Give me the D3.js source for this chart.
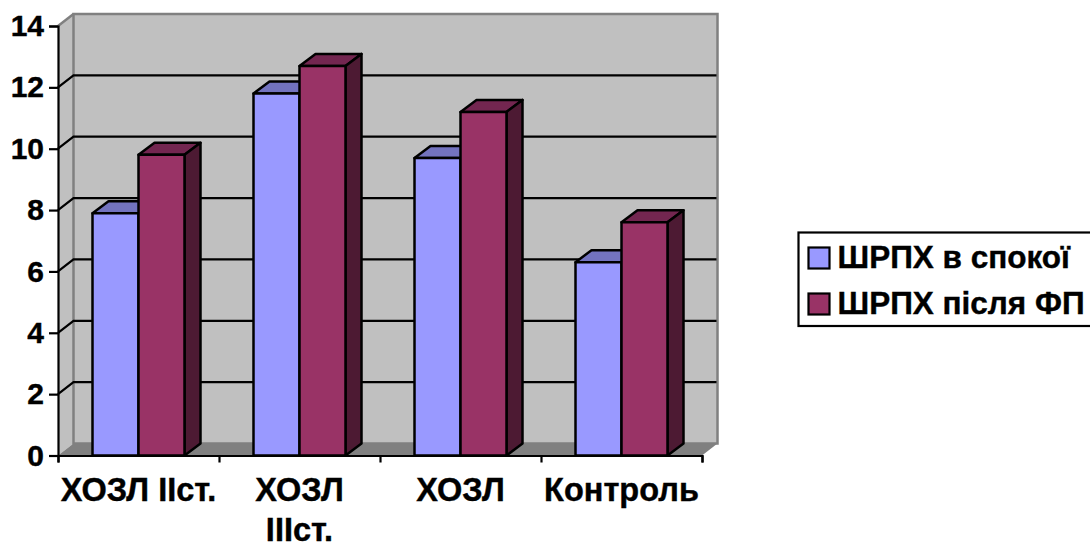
<!DOCTYPE html>
<html>
<head>
<meta charset="utf-8">
<script src="https://cdn.jsdelivr.net/npm/d3@7/dist/d3.min.js"></script>
<style>
html, body { margin: 0; padding: 0; background: #fff; overflow: hidden; }
text { font-family: "Liberation Sans", Arial, sans-serif; font-weight: bold; fill: #000; stroke: #000; stroke-width: 0.4px; }
</style>
</head>
<body>
<svg id="chart" width="1090" height="542"></svg>
<script>
const categories = [["ХОЗЛ IIст."], ["ХОЗЛ", "IIIст."], ["ХОЗЛ"], ["Контроль"]];
const seriesNames = ["ШРПХ в спокої", "ШРПХ після ФП"];
const restValues = [7.9, 11.8, 9.7, 6.3];
const afterValues = [9.8, 12.7, 11.2, 7.6];
const yTicks = [0, 2, 4, 6, 8, 10, 12, 14];
const frontColors = ["#9999ff", "#993366"];
const topColors = ["#7373bf", "#732650"];
const sideColors = ["#4d4d80", "#4d1a33"];

const svg = d3.select("#chart");
const x = d3.scaleBand().domain(d3.range(categories.length)).range([58, 702]);
const y = d3.scaleLinear().domain([0, 14]).range([455.5, 26]);
const series = d3.scaleBand().domain([0, 1]).range([0, x.bandwidth()]).paddingOuter(0.75).paddingInner(0);
const depth = { dx: 15.5, dy: -12 };
const barDepth = { dx: 16, dy: -12 };
const poly = pts => pts.map(p => p.join(",")).join(" ");

// Side wall, back wall and floor of the 3D box
const x0 = x.range()[0], x1 = x.range()[1];
const wall = svg.append("g");
wall.append("polygon")
  .attr("points", poly([[x0, y(14)], [x0 + depth.dx, y(14) + depth.dy], [x0 + depth.dx, y(0) + depth.dy], [x0, y(0)]]))
  .attr("fill", "#c0c0c0");
wall.append("rect")
  .attr("x", x0 + depth.dx).attr("y", y(14) + depth.dy)
  .attr("width", x1 - x0).attr("height", y(0) - y(14))
  .attr("fill", "#c0c0c0").attr("stroke", "#808080").attr("stroke-width", 2.5);
wall.append("polygon")
  .attr("points", poly([[x0, y(0)], [x0 + depth.dx, y(0) + depth.dy], [x1 + depth.dx, y(0) + depth.dy], [x1, y(0)]]))
  .attr("fill", "#808080");
wall.append("line")
  .attr("x1", x0).attr("y1", y(14)).attr("x2", x0 + depth.dx).attr("y2", y(14) + depth.dy)
  .attr("stroke", "#808080").attr("stroke-width", 2.5);

// Gridlines run along the side wall and across the back wall
const gridValues = yTicks.slice(1, -1);
const grid = svg.append("g").attr("fill", "none").attr("stroke", "#000").attr("stroke-width", 2.2);
grid.selectAll("polyline").data(gridValues).join("polyline")
  .attr("points", d => poly([[x0, y(d)], [x0 + depth.dx, y(d) + depth.dy], [x1 + depth.dx - 1, y(d) + depth.dy]]));

// 3D bars: one front, top and side face per value
[restValues, afterValues].forEach((values, s) => {
  const g = svg.append("g").attr("stroke", "#000").attr("stroke-width", 2.5).attr("stroke-linejoin", "round");
  const bars = g.selectAll("g").data(values).join("g");
  const left = (d, i) => x(i) + series(s);
  const right = (d, i) => left(d, i) + series.bandwidth();
  bars.append("polygon")
    .attr("fill", topColors[s])
    .attr("points", (d, i) => poly([[left(d, i), y(d)], [left(d, i) + barDepth.dx, y(d) + barDepth.dy],
      [right(d, i) + barDepth.dx, y(d) + barDepth.dy], [right(d, i), y(d)]]));
  bars.append("polygon")
    .attr("fill", sideColors[s])
    .attr("points", (d, i) => poly([[right(d, i), y(d)], [right(d, i) + barDepth.dx, y(d) + barDepth.dy],
      [right(d, i) + barDepth.dx, y(0) + barDepth.dy], [right(d, i), y(0)]]));
  bars.append("rect")
    .attr("fill", frontColors[s])
    .attr("x", left).attr("y", d => y(d))
    .attr("width", series.bandwidth()).attr("height", d => y(0) - y(d));
});

// Value axis
const yAxis = svg.append("g").attr("transform", `translate(${x0},0)`)
  .call(d3.axisLeft(y).tickValues(yTicks).tickSize(9).tickPadding(5).tickFormat(d3.format("d")));
yAxis.selectAll("text").style("font-size", "30px");
yAxis.select(".domain").attr("stroke-width", 2.2);
yAxis.selectAll("line").attr("stroke-width", 2.2);

// Category axis: ticks fall on the band edges, labels centred beneath each band
const edge = d3.scaleLinear().domain([0, categories.length]).range(x.range());
const xAxis = svg.append("g").attr("transform", `translate(0,${y(0)})`)
  .call(d3.axisBottom(edge).tickValues(d3.range(categories.length + 1)).tickSize(7).tickFormat(""));
xAxis.select(".domain").attr("stroke-width", 2.2);
xAxis.selectAll("line").attr("stroke-width", 2.2);

const labels = svg.append("g").selectAll("text").data(categories).join("text")
  .attr("text-anchor", "middle").style("font-size", "32.5px");
labels.selectAll("tspan").data((d, i) => d.map(t => ({ t, i }))).join("tspan")
  .attr("x", d => x(d.i) + x.bandwidth() / 2)
  .attr("y", (d, j) => 501 + j * 39.5)
  .text(d => d.t);

// Legend, its right edge running off the page
const legend = svg.append("g");
legend.append("rect")
  .attr("x", 798.5).attr("y", 232.5).attr("width", 300).attr("height", 93.5)
  .attr("fill", "#fff").attr("stroke", "#000").attr("stroke-width", 2.2);
const rows = legend.selectAll("g").data(seriesNames).join("g")
  .attr("transform", (d, i) => `translate(0,${247.5 + i * 46})`);
rows.append("rect").attr("x", 808.5).attr("width", 21).attr("height", 21)
  .attr("fill", (d, i) => frontColors[i]).attr("stroke", "#000").attr("stroke-width", 2.2);
rows.append("text").attr("x", 837.5).attr("y", 20).style("font-size", "31.5px").text(d => d);
</script>
</body>
</html>
